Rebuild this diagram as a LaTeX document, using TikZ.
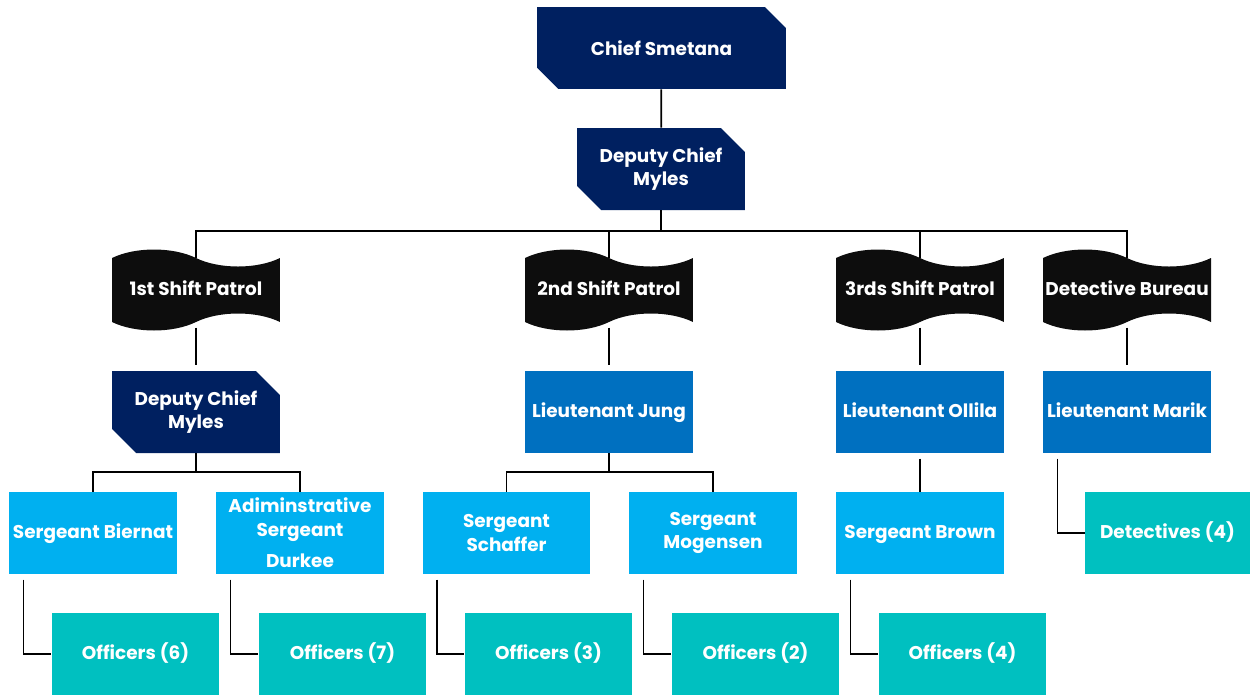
\documentclass[tikz,border=0pt]{standalone}
\usepackage{fontspec}
\setmainfont{Poppins}
\usetikzlibrary{shapes.misc,shapes.symbols}
\definecolor{navy}{HTML}{002060}
\definecolor{wavebk}{HTML}{0D0D0D}
\definecolor{ltblue}{HTML}{0070C0}
\definecolor{sgblue}{HTML}{00B0F0}
\definecolor{offteal}{HTML}{00C0C0}
\tikzset{
  box/.style={minimum width=3.36cm, minimum height=1.64cm, inner sep=1pt,
    text=white, align=center, font=\bfseries\fontsize{10.5}{13.6}\selectfont},
  oneline/.style={text height=1.6ex, text depth=0.45ex},
  snipbox/.style={box, fill=navy, chamfered rectangle,
    chamfered rectangle corners={north east,south west},
    chamfered rectangle xsep=0.24cm, chamfered rectangle ysep=0.24cm},
  wavebox/.style={box, oneline, fill=wavebk, tape, minimum height=1.62cm,
    tape bend top=out and in, tape bend bottom=in and out, tape bend height=0.34cm},
  ltbox/.style={box, oneline, fill=ltblue},
  sgbox/.style={box, fill=sgblue},
  offbox/.style={box, oneline, fill=offteal},
  link/.style={draw=black, line width=1pt},
}
\begin{document}
\begin{tikzpicture}[x=0.02cm, y=-0.02cm]
  \useasboundingbox (0,0) rectangle (1250,694);
  % top of the chart
  \node[snipbox, minimum width=4.98cm] (chief) at (661.5,48) {Chief Smetana};
  \node[snipbox] (dep) at (661,169) {Deputy Chief\\Myles};
  % divisions
  \node[wavebox] (patrol1) at (196,290) {1st Shift Patrol};
  \node[wavebox] (patrol2) at (609,290) {2nd Shift Patrol};
  \node[wavebox] (patrol3) at (920,290) {3rds Shift Patrol};
  \node[wavebox] (bureau) at (1127,290) {Detective Bureau};
  % commanders
  \node[snipbox] (depB) at (196,412) {Deputy Chief\\Myles};
  \node[ltbox] (jung) at (609,412) {Lieutenant Jung};
  \node[ltbox] (ollila) at (920,412) {Lieutenant Ollila};
  \node[ltbox] (marik) at (1127,412) {Lieutenant Marik};
  % sergeants
  \node[sgbox, oneline] (biernat) at (93,533) {Sergeant Biernat};
  \node[sgbox] (durkee) at (300,533) {Adiminstrative\\Sergeant\\[4pt]Durkee};
  \node[sgbox] (schaffer) at (506.5,533) {Sergeant\\Schaffer};
  \node[sgbox] (mogensen) at (713,533) {Sergeant\\Mogensen};
  \node[sgbox, oneline] (brown) at (920,533) {Sergeant Brown};
  \node[offbox, minimum width=3.3cm] (detectives) at (1167.5,533) {Detectives (4)};
  % officers
  \node[offbox] (off6) at (135.5,654) {Officers (6)};
  \node[offbox] (off7) at (342.5,654) {Officers (7)};
  \node[offbox] (off3) at (548.5,654) {Officers (3)};
  \node[offbox] (off2) at (755.5,654) {Officers (2)};
  \node[offbox] (off4) at (962.5,654) {Officers (4)};

  % connectors
  \draw[link] (chief) -- (dep);
  \draw[link] (dep.south) -- ++(0,21) coordinate (bus);
  \draw[link] (patrol1.north) |- (bus) -| (bureau.north);
  \draw[link] (patrol2.north) -- (patrol2.north |- bus);
  \draw[link] (patrol3.north) -- (patrol3.north |- bus);
  \foreach \a/\b in {patrol1/depB, patrol2/jung, patrol3/ollila, bureau/marik}
    \draw[link, shorten <=3pt, shorten >=3pt] (\a.south) -- (\b.north);
  \draw[link] (depB.south) -- ++(0,19) coordinate (busB);
  \draw[link] (biernat.north) |- (busB) -| (durkee.north);
  \draw[link] (jung.south) -- ++(0,19) coordinate (busJ);
  \draw[link] (schaffer.north) |- (busJ) -| (mogensen.north);
  \draw[link, shorten <=3pt] (ollila) -- (brown);
  \draw[link, shorten <=3pt] ([xshift=8.5pt] marik.south west) |- (detectives.west);
  \foreach \a/\b in {biernat/off6, durkee/off7, schaffer/off3, mogensen/off2, brown/off4}
    \draw[link, shorten <=3pt] ([xshift=8.5pt] \a.south west) |- (\b.west);
\end{tikzpicture}
\end{document}
